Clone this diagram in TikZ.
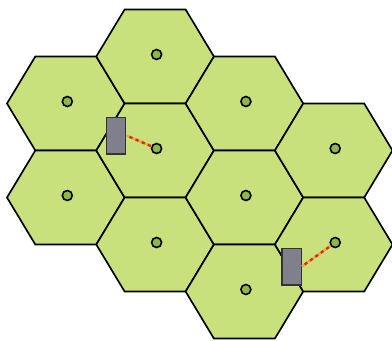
\documentclass[tikz,border=0pt]{standalone}
\usetikzlibrary{positioning}
\definecolor{cellgreen}{RGB}{200,225,125}
\definecolor{dotgreen}{RGB}{140,184,70}
\definecolor{phonegray}{RGB}{128,128,140}
\definecolor{linkorange}{RGB}{240,170,60}
\definecolor{linkred}{RGB}{220,40,20}
\tikzset{
  hexcell/.style={fill=cellgreen, draw=black, line width=1.25pt, line join=miter},
  basestation/.style={circle, draw=black, fill=dotgreen, line width=1.2pt, minimum size=7.5pt, inner sep=0pt},
  phone/.style={rectangle, draw=black!80, fill=phonegray, line width=1pt, minimum width=14.5pt, minimum height=27.5pt, inner sep=0pt},
  linkA/.style={linkorange, line width=1.8pt, dash pattern=on 2.5pt off 2.5pt},
  linkB/.style={linkred, line width=1.8pt, dash pattern=on 2.5pt off 2.5pt, dash phase=2.5pt}
}
\begin{document}
\begin{tikzpicture}[x=0.75pt, y=-0.75pt]
\useasboundingbox (0,0) rectangle (392,340);
\def\ha{58.8}\def\hb{30.5}\def\hh{47}
% cells
\foreach \cx/\cy/\nm in {65.8/103.5/a1, 65.8/197.5/a2,
                         155.1/56.5/b1, 155.1/150.5/b2, 155.1/244.5/b3,
                         244.4/103.5/c1, 244.4/197.5/c2, 244.4/291.5/c3,
                         333.7/150.5/d1, 333.7/244.5/d2}{
  \draw[hexcell] (\cx-\ha,\cy) -- (\cx-\hb,\cy-\hh) -- (\cx+\hb,\cy-\hh)
     -- (\cx+\ha,\cy) -- (\cx+\hb,\cy+\hh) -- (\cx-\hb,\cy+\hh) -- cycle;
}
% base stations
\foreach \cx/\cy/\nm in {65.8/103.5/a1, 65.8/197.5/a2,
                         155.1/56.5/b1, 155.1/150.5/b2, 155.1/244.5/b3,
                         244.4/103.5/c1, 244.4/197.5/c2, 244.4/291.5/c3,
                         333.7/150.5/d1, 333.7/244.5/d2}{
  \node[basestation] (bs\nm) at (\cx+1.5,\cy-2) {};
}
% phones
\node[phone] (p1) at (116,135.5) {};
\node[phone] (p2) at (291.5,266.5) {};
% links
\draw[linkA] (p1.east) -- (bsb2);
\draw[linkB] (p1.east) -- (bsb2);
\draw[linkA] (p2.east) -- (bsd2);
\draw[linkB] (p2.east) -- (bsd2);
\end{tikzpicture}
\end{document}
